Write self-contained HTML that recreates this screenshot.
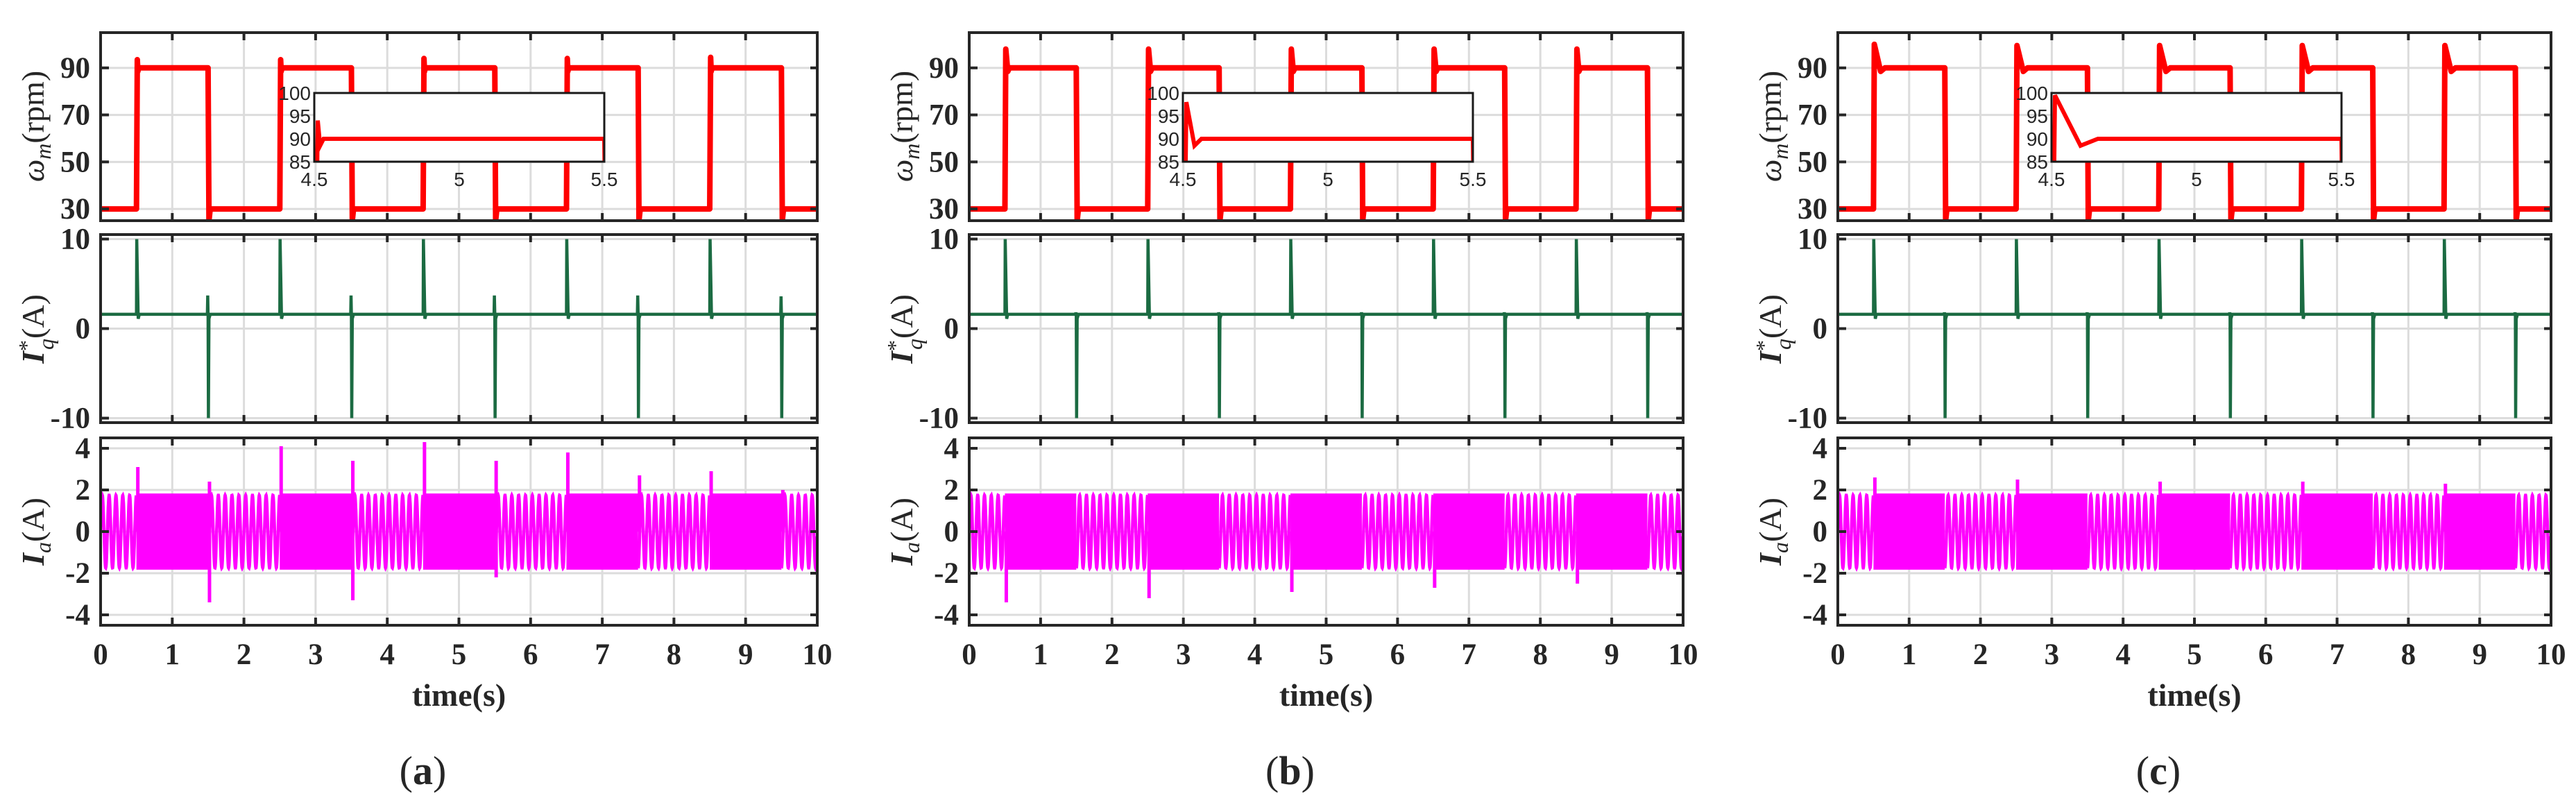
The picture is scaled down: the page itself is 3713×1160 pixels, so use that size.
<!DOCTYPE html>
<html><head><meta charset="utf-8"><style>
html,body{margin:0;padding:0;background:#fff;}
svg{display:block;}
.tk{font-family:"Liberation Serif",serif;font-weight:bold;font-size:43px;fill:#262626;}
.ins{font-family:"Liberation Sans",sans-serif;font-size:28px;fill:#262626;}
.lab{font-family:"Liberation Serif",serif;font-size:46px;fill:#262626;}
</style></head><body>
<svg id="fig" width="3713" height="1160" viewBox="0 0 3713 1160" xmlns="http://www.w3.org/2000/svg"></svg>
<script>
// ---- data ----
const panelNames = ['a','b','c'];
const upTimes = [0.5,2.5,4.5,6.5,8.5];
const downTimes = [1.5,3.5,5.5,7.5,9.5];
const speedLow = 30;
const speedHigh = 90;
const speedPeak = [[93.5,93.5,94,94,94.5],[98,98,98,98,98],[100,99.5,99.5,99.5,99.5]];
const speedDip = [[25,25,25,25,25],[25,25,25,25,25],[25,25,25,25,25]];
const settleTime = [0.02,0.04,0.1];
const iqBase = 1.6;
const iqUpSpike = [[10,10,10,10,10],[10,10,10,10,10],[10,10,10,10,10]];
const iqDownSpike = [[-10,-10,-10,-10,-10],[-10,-10,-10,-10,-10],[-10,-10,-10,-10,-10]];
const iqDownBump = [[3.7,3.7,3.7,3.7,3.6],[1.8,1.8,1.8,1.8,1.8],[1.8,1.8,1.8,1.8,1.8]];
const iaAmp = 1.75;
const iaLowFreq = 10.5;
const iaUpSpikeAtUp = [[3.1,4.1,4.3,3.8,2.9],[0,0,0,0,0],[2.6,2.5,2.4,2.4,2.3]];
const iaDownSpikeAtUp = [[0,0,0,0,0],[-3.4,-3.2,-2.9,-2.7,-2.5],[0,0,0,0,0]];
const iaUpSpikeAtDown = [[2.4,3.4,3.4,2.7,2.0],[0,0,0,0,0],[0,0,0,0,0]];
const iaDownSpikeAtDown = [[-3.4,-3.3,-2.2,0,0],[0,0,0,0,0],[0,0,0,0,0]];
const xTicks = [0,1,2,3,4,5,6,7,8,9,10];
const speedTicks = [30,50,70,90];
const iqTicks = [-10,0,10];
const iaTicks = [-4,-2,0,2,4];
const insetYTicks = [85,90,95,100];
const insetXTicks = [4.5,5,5.5];

// ---- layout ----
const panelLeft = [145,1397,2649];
const panelRight = [1178,2426,3677];
const rows = [{t:47,b:318,min:25,max:105},{t:338,b:609,min:-10.5,max:10.5},{t:631,b:901,min:-4.5,max:4.5}];
const NS='http://www.w3.org/2000/svg';
const svg=document.getElementById('fig');
function el(tag,attrs,parent){const e=document.createElementNS(NS,tag);for(const k in attrs)e.setAttribute(k,attrs[k]);(parent||svg).appendChild(e);return e;}

function speedPts(p){
  const pts=[[0,speedLow]];
  for(let i=0;i<upTimes.length;i++){
    const tu=upTimes[i], td=downTimes[i], s=settleTime[p];
    pts.push([tu,speedLow],[tu+0.012,speedPeak[p][i]],[tu+s,speedHigh-1.5],[tu+s*1.6,speedHigh],[td,speedHigh],[td+0.012,speedDip[p][i]],[td+0.03,speedLow]);
  }
  pts.push([10,speedLow]);return pts;
}
function refPts(){
  const pts=[[0,speedLow]];
  for(let i=0;i<upTimes.length;i++){pts.push([upTimes[i]-0.005,speedLow],[upTimes[i]-0.005,speedHigh],[downTimes[i]-0.005,speedHigh],[downTimes[i]-0.005,speedLow]);}
  pts.push([10,speedLow]);return pts;
}
function iqPts(p){
  const pts=[[0,iqBase]];
  const ev=[];
  for(let i=0;i<upTimes.length;i++){ev.push(['u',upTimes[i],i]);ev.push(['d',downTimes[i],i]);}
  ev.sort((a,b)=>a[1]-b[1]);
  for(const [k,t,i] of ev){
    if(k==='u'){pts.push([t,iqBase],[t+0.004,iqUpSpike[p][i]],[t+0.025,iqBase-0.5],[t+0.04,iqBase]);}
    else{pts.push([t-0.01,iqBase],[t-0.005,iqDownBump[p][i]],[t,iqBase],[t+0.004,iqDownSpike[p][i]],[t+0.012,iqBase-0.5],[t+0.03,iqBase]);}
  }
  pts.push([10,iqBase]);return pts;
}

for(let p=0;p<3;p++){
  const L=panelLeft[p],R=panelRight[p];
  const g=el('g',{});
  
  
  const X=t=>L+(t/10)*(R-L);
  const clipId='clip'+p;
  const defs=el('defs',{},g);
  rows.forEach((r,ri)=>{const c=el('clipPath',{id:clipId+'r'+ri},defs);el('rect',{x:L,y:r.t,width:R-L,height:r.b-r.t},c);});
  const tickSets=[speedTicks,iqTicks,iaTicks];
  const rowNames=['speed-plot','iq-plot','ia-plot'];
  rows.forEach((r,ri)=>{
    const Y=v=>r.b-(v-r.min)/(r.max-r.min)*(r.b-r.t);
    const ax=el('g',{},g);
    
    
    xTicks.forEach(t=>{if(t>0&&t<10)el('line',{x1:X(t),x2:X(t),y1:r.t,y2:r.b,stroke:'#dcdcdc','stroke-width':3},ax);});
    tickSets[ri].forEach(v=>{el('line',{x1:L,x2:R,y1:Y(v),y2:Y(v),stroke:'#dcdcdc','stroke-width':3},ax);});
    const dg=el('g',{'clip-path':'url(#'+clipId+'r'+ri+')'},ax);
    if(ri===0){
      el('path',{d:'M'+refPts().map(q=>X(q[0]).toFixed(1)+','+Y(q[1]).toFixed(1)).join('L'),fill:'none',stroke:'#000','stroke-width':2},dg);
      const sp=el('path',{d:'M'+speedPts(p).map(q=>X(q[0]).toFixed(1)+','+Y(q[1]).toFixed(1)).join('L'),fill:'none',stroke:'#ff0000','stroke-width':8,'stroke-linejoin':'round'},dg);
      
      
    } else if(ri===1){
      const ip=el('path',{d:'M'+iqPts(p).map(q=>X(q[0]).toFixed(1)+','+Y(q[1]).toFixed(1)).join('L'),fill:'none',stroke:'#1b6b42','stroke-width':4.5},dg);
      
      
    } else {
      const segs=[[0,upTimes[0]]];
      for(let i=0;i<downTimes.length;i++)segs.push([downTimes[i],i+1<upTimes.length?upTimes[i+1]:10]);
      segs.forEach(([a,b])=>{
        let d='';
        for(let t=a;t<=b;t+=0.002){const v=iaAmp*Math.sin(2*Math.PI*iaLowFreq*t);d+=(d?'L':'M')+X(t).toFixed(1)+','+Y(v).toFixed(1);}
        const sp=el('path',{d:d,fill:'none',stroke:'#ff00ff','stroke-width':4.5},dg);
        
        
      });
      for(let i=0;i<upTimes.length;i++){
        const band=el('rect',{x:X(upTimes[i]),y:Y(iaAmp+0.08),width:X(downTimes[i])-X(upTimes[i]),height:Y(-iaAmp-0.08)-Y(iaAmp+0.08),fill:'#ff00ff'},dg);
        
        
        const spikes=[[upTimes[i],iaUpSpikeAtUp[p][i]],[upTimes[i],iaDownSpikeAtUp[p][i]],[downTimes[i],iaUpSpikeAtDown[p][i]],[downTimes[i],iaDownSpikeAtDown[p][i]]];
        spikes.forEach(([t,v])=>{if(v!==0){
          const s=el('line',{x1:X(t)+2,x2:X(t)+2,y1:Y(0),y2:Y(v),stroke:'#ff00ff','stroke-width':5},dg);
          
          
        }});
      }
    }
    el('rect',{x:L,y:r.t,width:R-L,height:r.b-r.t,fill:'none',stroke:'#262626','stroke-width':4},ax);
    xTicks.forEach(t=>{if(t>0&&t<10){el('line',{x1:X(t),x2:X(t),y1:r.t,y2:r.t+11,stroke:'#262626','stroke-width':4},ax);el('line',{x1:X(t),x2:X(t),y1:r.b,y2:r.b-11,stroke:'#262626','stroke-width':4},ax);}});
    tickSets[ri].forEach(v=>{
      el('line',{x1:L,x2:L+12,y1:Y(v),y2:Y(v),stroke:'#262626','stroke-width':4},ax);
      el('line',{x1:R,x2:R-10,y1:Y(v),y2:Y(v),stroke:'#262626','stroke-width':4},ax);
      const tx=el('text',{x:L-15,y:Y(v)+14,'text-anchor':'end',class:'tk'},ax);tx.textContent=String(v);
      
      
    });
  });
  xTicks.forEach(t=>{const tx=el('text',{x:X(t),y:957,'text-anchor':'middle',class:'tk'},g);tx.textContent=String(t);
    
    });
  const xt=el('text',{x:(L+R)/2,y:1017,'text-anchor':'middle',class:'tk',style:'font-size:46px'},g);xt.textContent='time(s)';
  
  
  const cap=el('text',{x:(L+R)/2-52,y:1130,'text-anchor':'middle',class:'lab',style:'font-size:58px'},g);
  cap.innerHTML='(<tspan font-weight="bold">'+panelNames[p]+'</tspan>)';
  
  
  const yl=[{cy:182,h:'<tspan font-style="italic">ω</tspan><tspan font-style="italic" font-size="32" dy="10">m</tspan><tspan dy="-10">(rpm)</tspan>',n:'speed-axis-title'},
            {cy:474,h:'<tspan font-style="italic" font-weight="bold">I</tspan><tspan font-size="32" dy="-14">*</tspan><tspan font-style="italic" font-size="32" dx="-14" dy="28">q</tspan><tspan dy="-14">(A)</tspan>',n:'iq-axis-title'},
            {cy:766,h:'<tspan font-style="italic" font-weight="bold">I</tspan><tspan font-style="italic" font-size="32" dy="10">a</tspan><tspan dy="-10">(A)</tspan>',n:'ia-axis-title'}];
  yl.forEach(o=>{const t=el('text',{x:0,y:0,'text-anchor':'middle',class:'lab',transform:'translate('+(L-82)+','+o.cy+') rotate(-90)'},g);t.innerHTML=o.h;
    
    });
  const iL=L+308, iR=L+726, iT=134, iB=233;
  const ig=el('g',{},g);
  
  
  const IX=t=>iL+(t-4.5)/1*(iR-iL);
  const IY=v=>iB-(v-85)/15*(iB-iT);
  el('rect',{x:iL,y:iT,width:iR-iL,height:iB-iT,fill:'#fff'},ig);
  const ic=el('clipPath',{id:'iclip'+p},defs);el('rect',{x:iL,y:iT,width:iR-iL,height:iB-iT},ic);
  const ipath=el('path',{d:'M'+speedPts(p).map(q=>IX(q[0]).toFixed(1)+','+IY(q[1]).toFixed(1)).join('L'),fill:'none',stroke:'#ff0000','stroke-width':6,'clip-path':'url(#iclip'+p+')'},ig);
  
  
  el('rect',{x:iL,y:iT,width:iR-iL,height:iB-iT,fill:'none',stroke:'#1a1a1a','stroke-width':3},ig);
  insetYTicks.forEach(v=>{const t=el('text',{x:iL-5,y:IY(v)+10,'text-anchor':'end',class:'ins'},ig);t.textContent=String(v);
    
    });
  insetXTicks.forEach(v=>{const t=el('text',{x:IX(v),y:268,'text-anchor':'middle',class:'ins'},ig);t.textContent=String(v);
    
    });
}
</script>
</body></html>
